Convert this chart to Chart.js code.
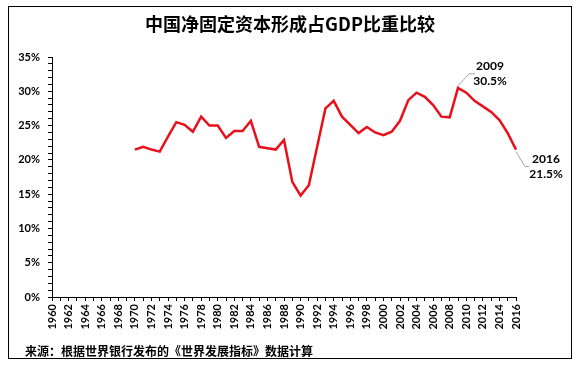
<!DOCTYPE html>
<html>
<head>
<meta charset="utf-8">
<script src="https://cdn.jsdelivr.net/npm/chart.js@4"></script>
<style>
    body { margin: 0; background: #fff; }
    #wrap { position: relative; width: 580px; height: 368px; }
</style>
</head>
<body>
<div id="wrap"><canvas id="chart"></canvas></div>
<script>
// Data
const years = [
    '1960','1961','1962','1963','1964','1965','1966','1967','1968','1969',
    '1970','1971','1972','1973','1974','1975','1976','1977','1978','1979',
    '1980','1981','1982','1983','1984','1985','1986','1987','1988','1989',
    '1990','1991','1992','1993','1994','1995','1996','1997','1998','1999',
    '2000','2001','2002','2003','2004','2005','2006','2007','2008','2009',
    '2010','2011','2012','2013','2014','2015','2016'
];
const shareOfGdp = [
    null, null, null, null, null, null, null, null, null, null,
    21.5, 21.9, 21.5, 21.2, 23.4, 25.5, 25.1, 24.1, 26.3, 25.0,
    25.0, 23.2, 24.2, 24.2, 25.7, 21.9, 21.7, 21.5, 22.9, 16.8,
    14.8, 16.3, 21.9, 27.5, 28.6, 26.3, 25.1, 23.9, 24.8, 24.0,
    23.6, 24.1, 25.7, 28.7, 29.8, 29.2, 28.0, 26.3, 26.2, 30.5,
    29.8, 28.6, 27.8, 27.0, 25.8, 23.9, 21.5
];
const yTickLabels = ['0%', '5%', '10%', '15%', '20%', '25%', '30%', '35%'];
const callouts = [
    { year: '2009', text: ['2009', '30.5%'] },
    { year: '2016', text: ['2016', '21.5%'] }
];
const titleText = '中国净固定资本形成占GDP比重比较';
const sourceText = '来源：根据世界银行发布的《世界发展指标》数据计算';

// Frame, title, source note and the two callouts
const extrasPlugin = {
    id: 'extras',
    beforeDraw(chart) {
        const ctx = chart.ctx;
        ctx.save();
        ctx.strokeStyle = '#000';
        ctx.lineWidth = 1;
        ctx.strokeRect(8.5, 6.5, 563, 352);
        ctx.fillStyle = '#000';
        ctx.font = 'bold 18px "Noto Sans CJK SC"';
        ctx.textAlign = 'center';
        ctx.textBaseline = 'middle';
        ctx.fillText(titleText, 290, 24);
        ctx.restore();
    },
    afterDatasetsDraw(chart) {
        const ctx = chart.ctx;
        const xs = chart.scales.x;
        const ys = chart.scales.y;
        ctx.save();
        callouts.forEach(c => {
            const i = years.indexOf(c.year);
            const px = xs.getPixelForValue(i);
            const py = ys.getPixelForValue(shareOfGdp[i]);
            ctx.strokeStyle = '#a6a6a6';
            ctx.lineWidth = 1;
            ctx.beginPath();
            let tx, ty;
            if (c.year === '2009') {
                ctx.moveTo(px, py - 2);
                ctx.lineTo(px + 11, py - 14);
                ctx.lineTo(px + 17, py - 14);
                tx = px + 32; ty = py - 22;
            } else {
                ctx.moveTo(px, py + 2);
                ctx.lineTo(px + 9, py + 17);
                ctx.lineTo(px + 13, py + 17);
                tx = px + 30; ty = py + 10;
            }
            ctx.stroke();
            ctx.fillStyle = '#000';
            ctx.font = 'bold 12px Lato';
            ctx.textAlign = 'center';
            ctx.textBaseline = 'middle';
            ctx.fillText(c.text[0], tx, ty);
            ctx.fillText(c.text[1], tx, ty + 15);
        });
        ctx.fillStyle = '#000';
        ctx.font = 'bold 12px "Noto Sans CJK SC"';
        ctx.textAlign = 'left';
        ctx.textBaseline = 'middle';
        ctx.fillText(sourceText, 25, 351);
        ctx.restore();
    }
};

new Chart(document.getElementById('chart'), {
    type: 'line',
    data: {
        labels: years,
        datasets: [{
            data: shareOfGdp,
            borderColor: '#e8101a',
            borderWidth: 2.5,
            pointRadius: 0,
            tension: 0,
            spanGaps: false
        }]
    },
    options: {
        responsive: true,
        maintainAspectRatio: false,
        animation: false,
        layout: { padding: { left: 0, right: 64, top: 57, bottom: 0 } },
        plugins: {
            legend: { display: false },
            tooltip: { enabled: false },
            title: { display: false }
        },
        scales: {
            x: {
                type: 'category',
                offset: false,
                grid: { drawOnChartArea: false, drawTicks: true, tickLength: 4, color: '#000' },
                border: { color: '#000', width: 1 },
                ticks: {
                    autoSkip: false,
                    maxRotation: 90,
                    minRotation: 90,
                    padding: 3,
                    color: '#000',
                    font: { family: 'Lato', size: 11, weight: 'bold' },
                    callback: function(value) {
                        const y = this.getLabelForValue(value);
                        return Number(y) % 2 === 0 ? y : '';
                    }
                },
                afterFit: function(scale) { scale.height = 71; }
            },
            y: {
                min: 0,
                max: 35,
                grid: { drawOnChartArea: false, drawTicks: true, tickLength: 4, color: '#000' },
                border: { color: '#000', width: 1 },
                ticks: {
                    stepSize: 1,
                    maxTicksLimit: 40,
                    autoSkip: false,
                    padding: 8,
                    color: '#000',
                    font: { family: 'Lato', size: 11, weight: 'bold' },
                    callback: function(value) {
                        return value % 5 === 0 ? yTickLabels[value / 5] : '';
                    }
                },
                afterFit: function(scale) { scale.width = 52; }
            }
        }
    },
    plugins: [extrasPlugin]
});
</script>
</body>
</html>
